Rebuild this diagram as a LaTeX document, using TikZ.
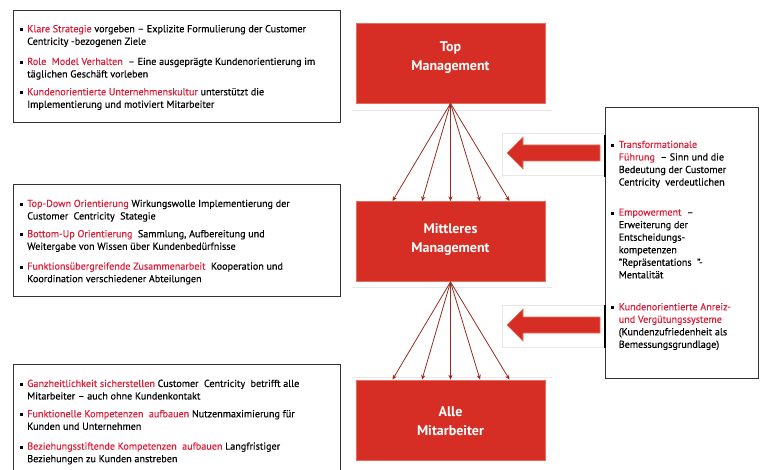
\documentclass[tikz,border=0pt]{standalone}
\usepackage{fontspec}
\setmainfont{PT Sans}
\newfontfamily\bodyfont{PT Sans}[FakeBold=0.35,Ligatures=TeX]
\usetikzlibrary{arrows.meta,calc}
\definecolor{boxred}{RGB}{214,46,36}
\definecolor{boxedge}{RGB}{228,110,92}
\definecolor{rtext}{RGB}{222,30,56}
\definecolor{linkred}{RGB}{150,45,35}
\definecolor{faint}{RGB}{232,232,232}
\newcommand\redtxt[1]{\textcolor{rtext}{#1}}
\newcommand\itembullet{\llap{\rule[0.6pt]{2.5pt}{2.5pt}\hspace{3.3pt}}}
\begin{document}
\begin{tikzpicture}[x=0.75pt,y=-0.75pt,
  textbox/.style={draw=black!80,line width=0.7pt},
  item/.style={anchor=north west,inner sep=0pt,align=left,font=\bodyfont\fontsize{7.6pt}{9.4pt}\selectfont},
  redbox/.style={fill=boxred,draw=boxedge,line width=0.6pt,minimum width=141.75pt,minimum height=60pt,inner sep=0pt},
  boxlabel/.style={text=white,align=center,font=\fontsize{10.5pt}{14.2pt}\selectfont\bfseries},
  link/.style={draw=linkred,line width=0.6pt,-{Stealth[length=3.6pt,width=3.2pt]}},
  bigarrow/.style={fill=boxred,draw=boxedge,line width=0.4pt},
  faintline/.style={draw=faint,line width=0.6pt}]
\useasboundingbox[fill=white] (0,0) rectangle (766,470);

% faint background lines
\draw[faintline] (352,110) -- (552,110);
\draw[faintline] (352,287) -- (552,287);
\draw[faintline] (352,377) -- (552,377);
\draw[faintline] (502,133) rectangle (604,175);
\draw[faintline] (502,305) rectangle (604,347);

% left text boxes
\draw[textbox] (13,10) rectangle (340,122.5);
\draw[textbox] (13,184) rectangle (340,296);
\draw[textbox] (13,364) rectangle (340,475);
% right text box
\draw[textbox] (605,107) rectangle (758,378);
\draw[black,line width=1.5pt] (605,135) -- (605,177);
\draw[black,line width=1.5pt] (605,305) -- (605,348);

% red boxes
\node[redbox] (top) at (450.5,63) {};
\node[boxlabel] (toplabel) at (450.5,57.5) {Top\\Management};
\node[redbox] (mid) at (450.5,241.5) {};
\node[boxlabel] (midlabel) at (450.5,239.5) {Mittleres\\Management};
\node[redbox] (all) at (450.5,420) {};
\node[boxlabel] (alllabel) at (450.5,421.5) {Alle\\Mitarbeiter};

% fan connectors
\foreach \dx in {-58,-28.5,0,29.5,59}{
  \draw[link] (top.south) -- ($(mid.north)+(\dx,0)$);
  \draw[link] (mid.south) -- ($(all.north)+(\dx,0)$);
}

% big arrows
\draw[bigarrow] (507,153) -- (523,137) -- (523,145) -- (600,145) -- (600,161) -- (523,161) -- (523,169) -- cycle;
\draw[bigarrow] (507,325) -- (523,309) -- (523,317) -- (600,317) -- (600,333) -- (523,333) -- (523,341) -- cycle;

% left box 1
\node[item] (a1) at (27,23.2) {\strut\itembullet\redtxt{Klare Strategie} vorgeben – Explizite Formulierung der Customer\\Centricity -bezogenen Ziele};
\node[item] (a2) at (27,55.9) {\strut\itembullet\redtxt{Role\ \ Model Verhalten}\ \ – Eine ausgeprägte Kundenorientierung im\\täglichen Geschäft vorleben};
\node[item] (a3) at (27,86.2) {\strut\itembullet\redtxt{Kundenorientierte Unternehmenskultur} unterstützt die\\Implementierung und motiviert Mitarbeiter};

% left box 2
\node[item] (b1) at (27,197.9) {\strut\itembullet\redtxt{Top-Down Orientierung} Wirkungswolle Implementierung der\\Customer\ \ Centricity\ \ Stategie};
\node[item] (b2) at (27,228.2) {\strut\itembullet\redtxt{Bottom-Up Orientierung}\ \ Sammlung, Aufbereitung und\\Weitergabe von Wissen über Kundenbedürfnisse};
\node[item] (b3) at (27,260.6) {\strut\itembullet\redtxt{Funktionsübergreifende Zusammenarbeit}\ \ Kooperation und\\Koordination verschiedener Abteilungen};

% left box 3
\node[item] (c1) at (27,377.9) {\strut\itembullet\redtxt{Ganzheitlichkeit sicherstellen} Customer\ \ Centricity\ \ betrifft alle\\Mitarbeiter – auch ohne Kundenkontakt};
\node[item] (c2) at (27,408.2) {\strut\itembullet\redtxt{Funktionelle Kompetenzen\ \ aufbauen} Nutzenmaximierung für\\Kunden und Unternehmen};
\node[item] (c3) at (27,440.6) {\strut\itembullet\redtxt{Beziehungsstiftende Kompetenzen\ \ aufbauen} Langfristiger\\Beziehungen zu Kunden anstreben};

% right box
\node[item] (r1) at (618.5,138.9) {\strut\itembullet\redtxt{Transformationale}\\\redtxt{Führung}\ \ – Sinn und die\\Bedeutung der Customer\\Centricity\ \ verdeutlichen};
\node[item] (r2) at (618.5,206.6) {\strut\itembullet\redtxt{Empowerment}\ \ –\\Erweiterung der\\Entscheidungs-\\kompetenzen\\"Repräsentations\ \ "-\\Mentalität};
\node[item] (r3) at (618.5,301.2) {\strut\itembullet\redtxt{Kundenorientierte Anreiz-}\\\redtxt{und Vergütungssysteme}\\(Kundenzufriedenheit als\\Bemessungsgrundlage)};
\end{tikzpicture}
\end{document}
